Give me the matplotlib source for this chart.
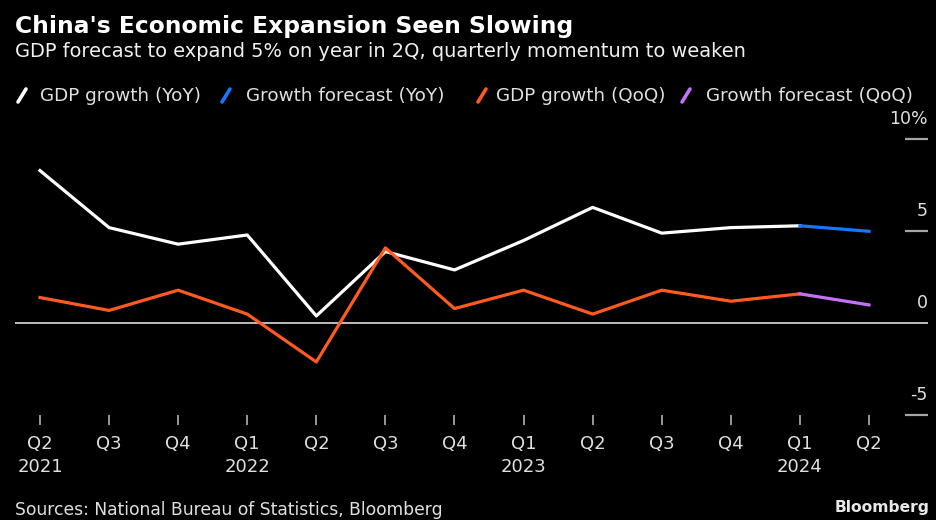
import matplotlib
matplotlib.use("Agg")
import matplotlib.pyplot as plt
from matplotlib.lines import Line2D

# ---- data ----
quarters = ["Q2", "Q3", "Q4", "Q1", "Q2", "Q3", "Q4", "Q1", "Q2", "Q3", "Q4", "Q1", "Q2"]
years = ["2021", "", "", "2022", "", "", "", "2023", "", "", "", "2024", ""]
gdp_yoy = [8.3, 5.2, 4.3, 4.8, 0.4, 3.9, 2.9, 4.5, 6.3, 4.9, 5.2, 5.3]
forecast_yoy = [5.3, 5.0]          # Q1 2024 (actual) -> Q2 2024 forecast
gdp_qoq = [1.4, 0.7, 1.8, 0.5, -2.1, 4.1, 0.8, 1.8, 0.5, 1.8, 1.2, 1.6]
forecast_qoq = [1.6, 1.0]
ytick_vals = [-5, 0, 5, 10]
ytick_labels = ["-5", "0", "5", "10%"]
legend_labels = ["GDP growth (YoY)", "Growth forecast (YoY)", "GDP growth (QoQ)", "Growth forecast (QoQ)"]

C_WHITE = "#ffffff"
C_BLUE = "#1479ff"
C_ORANGE = "#ff5a1f"
C_PURPLE = "#c471f5"
C_GRID = "#a6a6a6"
C_TXT = "#e0e0e0"

W, H = 937, 520
fig = plt.figure(figsize=(W / 100, H / 100), dpi=100, facecolor="black")
plt.rcParams["font.family"] = ["DejaVu Sans"]

def fx(px):
    return px / W

def fy(py):
    return 1 - py / H

ax_l, ax_r, ax_t, ax_b = 15, 928, 139.3, 415.3
ax = fig.add_axes([fx(ax_l), fy(ax_b), fx(ax_r - ax_l), (ax_b - ax_t) / H])
ax.set_facecolor("black")
for s in ax.spines.values():
    s.set_visible(False)

n = len(quarters)
xs = list(range(n))
ppu = (869 - 40) / (n - 1)
ax.set_xlim(-(40 - ax_l) / ppu, (n - 1) + (ax_r - 869) / ppu)
ax.set_ylim(-5, 10)

# zero line
ax.axhline(0, color="#bdbdbd", lw=1.4, zorder=1)
# short right-hand grid stubs and labels
ytr = ax.get_yaxis_transform()
for v, lab in zip(ytick_vals, ytick_labels):
    if v != 0:
        ax.plot([0.975, 1.0], [v, v], transform=ytr, color=C_GRID, lw=1.6,
                solid_capstyle="butt", clip_on=False, zorder=1)
    xpos = 1.0 if lab.endswith("%") else 0.9995
    ax.text(xpos, v + 0.62, lab, transform=ytr, ha="right", va="bottom",
            color=C_TXT, fontsize=12.5, clip_on=False)

# lines
lw = 2.3
ax.plot(xs[:len(gdp_yoy)], gdp_yoy, color=C_WHITE, lw=lw, zorder=3)
ax.plot(xs[len(gdp_yoy) - 1:], forecast_yoy, color=C_BLUE, lw=lw, zorder=3)
ax.plot(xs[:len(gdp_qoq)], gdp_qoq, color=C_ORANGE, lw=lw, zorder=4)
ax.plot(xs[len(gdp_qoq) - 1:], forecast_qoq, color=C_PURPLE, lw=lw, zorder=4)

# x axis ticks & labels
ax.set_xticks(xs)
ax.set_xticklabels([])
ax.tick_params(axis="x", direction="out", length=7, width=1.3, color=C_GRID, pad=0)
ax.tick_params(axis="y", left=False, right=False, labelleft=False)
xtr = ax.get_xaxis_transform()
for i in xs:
    ax.text(i, -(444 - ax_b) / (ax_b - ax_t), quarters[i], transform=xtr, ha="center", va="center",
            color=C_TXT, fontsize=13, clip_on=False)
    if years[i]:
        ax.text(i, -(467 - ax_b) / (ax_b - ax_t), years[i], transform=xtr, ha="center", va="center",
                color=C_TXT, fontsize=13, clip_on=False)

# title / subtitle
renderer = fig.canvas.get_renderer()

def fit(t, target):
    w = t.get_window_extent(renderer).width
    t.set_fontsize(t.get_fontsize() * target / w)

t1 = fig.text(fx(15), fy(33), "China's Economic Expansion Seen Slowing", color="white",
              fontsize=16, fontweight="bold", ha="left", va="baseline")
fit(t1, 557)
t2 = fig.text(fx(15), fy(57), "GDP forecast to expand 5% on year in 2Q, quarterly momentum to weaken",
              color="#f0f0f0", fontsize=14, ha="left", va="baseline")
fit(t2, 733)

# legend
leg_colors = [C_WHITE, C_BLUE, C_ORANGE, C_PURPLE]
slash_x = [18, 222, 478, 682]
text_x = [40, 246, 496, 706]
for c, sx, tx, lab in zip(leg_colors, slash_x, text_x, legend_labels):
    fig.add_artist(Line2D([fx(sx), fx(sx + 8)], [fy(102), fy(89)], color=c, lw=2.6,
                          transform=fig.transFigure, solid_capstyle="round"))
    fig.text(fx(tx), fy(101), lab, color=C_TXT, fontsize=13.2, ha="left", va="baseline")

# footer
t3 = fig.text(fx(15), fy(515), "Sources: National Bureau of Statistics, Bloomberg", color=C_TXT,
              fontsize=12.5, ha="left", va="baseline")
fit(t3, 430)
t4 = fig.text(fx(930), fy(512), "Bloomberg", color="#e8e8e8", fontsize=12.5, fontweight="bold",
              ha="right", va="baseline")
fit(t4, 95)

fig.savefig("out.png", dpi=100, facecolor="black")
